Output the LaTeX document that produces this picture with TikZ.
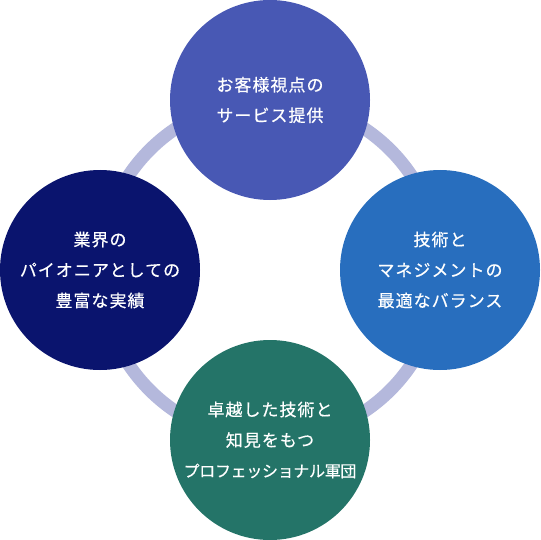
\documentclass[tikz,border=0pt]{standalone}
\usepackage{fontspec}
\newfontfamily\jpsp[LetterSpace=6,FakeBold=0.5]{Noto Sans CJK JP}
\newfontfamily\jptight[LetterSpace=-2,FakeBold=0.5]{Noto Sans CJK JP}
\definecolor{ringc}{HTML}{B4B8DC}
\definecolor{topc}{HTML}{4858B4}
\definecolor{rightc}{HTML}{286EBE}
\definecolor{bottomc}{HTML}{247468}
\definecolor{leftc}{HTML}{0A146E}
\tikzset{
  bubble/.style={circle, minimum size=200pt, inner sep=0pt, text=white, align=center,
    font=\jpsp\fontsize{17}{30.5}\selectfont},
  ringline/.style={draw=ringc, line width=13pt}
}
\begin{document}
\begin{tikzpicture}[x=1pt,y=-1pt]
\useasboundingbox (0,0) rectangle (540,540);
\coordinate (mid) at (270,270);
\draw[ringline] (mid) circle (170);
\node[bubble, fill=topc] (top) at (270,100) {お客様視点の\\サービス提供};
\node[bubble, fill=rightc] (right) at (440,270) {技術と\\マネジメントの\\最適なバランス};
\node[bubble, fill=bottomc] (bottom) at (270,440) {卓越した技術と\\知見をもつ\\{\jptight\fontsize{16}{30.5}\selectfont プロフェッショナル軍団}};
\node[bubble, fill=leftc] (left) at (100,270) {業界の\\パイオニアとしての\\豊富な実績};
\end{tikzpicture}
\end{document}
